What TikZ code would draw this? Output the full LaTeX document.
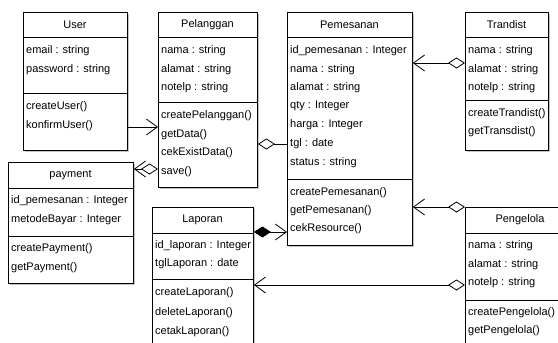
\documentclass[tikz,border=0pt]{standalone}
\usepackage{fontspec}
\setmainfont{Liberation Sans}
\usetikzlibrary{arrows.meta,shadows}

\tikzset{
  classbox/.style={draw=black, line width=0.9pt, fill=white, anchor=north west,
    inner sep=0pt, drop shadow={shadow xshift=1.6pt, shadow yshift=-1.6pt,
    fill=gray!45, opacity=1}},
  sep/.style={draw=black, line width=0.9pt},
  member/.style={anchor=west, inner sep=0pt, font=\fontsize{11}{12}\selectfont},
  title/.style={anchor=center, inner sep=0pt, font=\fontsize{11}{12}\selectfont},
  link/.style={draw=black, line width=0.8pt},
  barb/.tip={Straight Barb[length=11pt,width=16pt,line width=0.8pt]},
  hollowdiamond/.tip={Diamond[open,length=17pt,width=11pt,line width=0.8pt]},
  soliddiamond/.tip={Diamond[length=17pt,width=11pt]},
  navarrow/.style={-barb},
  aggr/.style={hollowdiamond-},
  aggrnav/.style={hollowdiamond-barb},
  componav/.style={soliddiamond-barb},
}

% class box: name, left, top, right, bottom, title, title rule y, member rule y
\newcommand\umlclass[8]{%
  \node[classbox, minimum width={#4-#2}, minimum height={#5-#3}] (#1) at (#2,#3) {};
  \node[title] (#1-name) at ({(#2+#4)/2},{(#3+#7)/2}) {#6};
  \draw[sep] (#1.west |- 0,#7) -- (#1.east |- 0,#7);
  \draw[sep] (#1.west |- 0,#8) -- (#1.east |- 0,#8);
}
% list of members: class name, left x, {y/text,...}
\newcommand\umlmembers[3]{%
  \foreach \yy/\tt [count=\k] in {#3} {
    \node[member] (#1-m\k) at (#2+3,\yy+1) {\tt};
  }
}

\begin{document}
\begin{tikzpicture}[x=1pt,y=-1pt]
\useasboundingbox (0,0) rectangle (558,343);
\clip (0,0) rectangle (558,343);
\fill[white] (0,0) rectangle (558,343);

% classes
\umlclass{user}{23}{12}{127}{150}{User}{37}{93}
\umlmembers{user}{23}{50/{email : string}, 69/{password : string},
  106/{createUser()}, 125/{konfirmUser()}}

\umlclass{pel}{158}{12}{257}{187}{Pelanggan}{37}{102}
\umlmembers{pel}{158}{50/{nama : string}, 69/{alamat : string}, 87/{notelp : string},
  115/{createPelanggan()}, 134/{getData()}, 152/{cekExistData()}, 171/{save()}}

\umlclass{pem}{287}{12}{412}{245}{Pemesanan}{37}{179}
\umlmembers{pem}{287}{50/{id\_pemesanan : Integer}, 69/{nama : string},
  87/{alamat : string}, 105/{qty : Integer}, 124/{harga : Integer},
  143/{tgl : date}, 162/{status : string},
  192/{createPemesanan()}, 210/{getPemesanan()}, 228/{cekResource()}}

\umlclass{tra}{465}{12}{548}{150}{Trandist}{37}{100}
\umlmembers{tra}{465}{50/{nama : string}, 69/{alamat : string}, 87/{notelp : string},
  113/{createTrandist()}, 131/{getTransdist()}}

\umlclass{pay}{8}{162}{133}{283}{payment}{188}{236}
\umlmembers{pay}{8}{200/{id\_pemesanan : Integer}, 219/{metodeBayar : Integer},
  248/{createPayment()}, 267/{getPayment()}}

\umlclass{lap}{152}{207}{253}{360}{Laporan}{233}{279}
\umlmembers{lap}{152}{245/{id\_laporan : Integer}, 263/{tglLaporan : date},
  292/{createLaporan()}, 312/{deleteLaporan()}, 331/{cetakLaporan()}}

\umlclass{peng}{465}{207}{575}{360}{Pengelola}{233}{300}
\umlmembers{peng}{465}{245/{nama : string}, 264/{alamat : string}, 282/{notelp : string},
  312/{createPengelola()}, 330/{getPengelola()}}

% relations
\draw[link, navarrow] (user.east |- 0,127) -- (pel.west |- 0,127);
\draw[link, aggrnav] (pel.west |- 0,169) -- (pay.east |- 0,169);
\draw[link, aggr] (pel.east |- 0,144) -- (pem.west |- 0,144);
\draw[link, aggrnav] (tra.west |- 0,63) -- (pem.east |- 0,63);
\draw[link, aggrnav] (peng.north west) -- (pem.east |- peng.north west);
\draw[link, componav] (lap.east |- 0,232) -- (pem.west |- 0,232);
\draw[link, aggrnav] (peng.west |- 0,285) -- (lap.east |- 0,285);
\end{tikzpicture}
\end{document}
